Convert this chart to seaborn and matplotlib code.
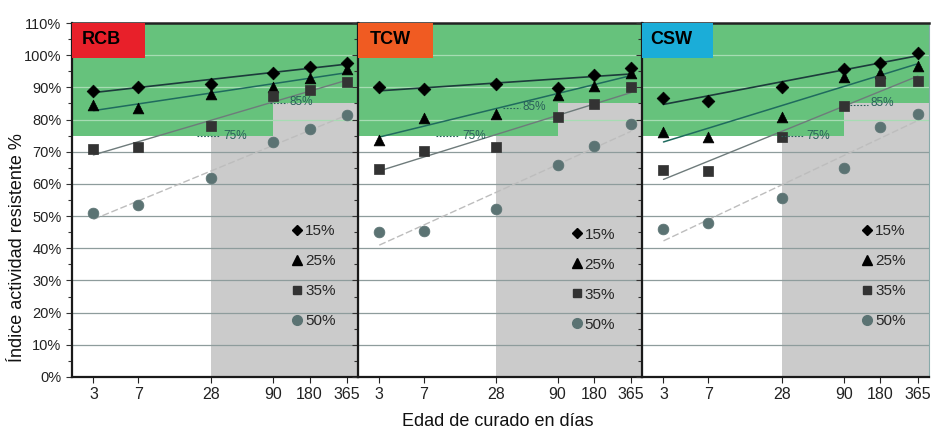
import numpy as np
import pandas as pd
import matplotlib
matplotlib.use("Agg")
import matplotlib.pyplot as plt
from matplotlib.lines import Line2D
from matplotlib.patches import Rectangle
from matplotlib.ticker import PercentFormatter, FixedLocator, MultipleLocator
import seaborn as sns

# ---------------- data ----------------
days = [3, 7, 28, 90, 180, 365]
day_labels = ["3", "7", "28", "90", "180", "365"]
panels = ["RCB", "TCW", "CSW"]
series = ["15%", "25%", "35%", "50%"]

rcb_15 = [88.9, 90.2, 91.0, 94.6, 96.4, 97.5]
rcb_25 = [84.4, 83.5, 87.8, 90.2, 92.8, 95.7]
rcb_35 = [70.7, 71.5, 77.9, 87.4, 89.2, 91.7]
rcb_50 = [50.9, 53.4, 61.7, 73.1, 77.1, 81.5]

tcw_15 = [90.0, 89.6, 91.1, 89.9, 93.8, 95.9]
tcw_25 = [73.6, 80.4, 81.7, 87.7, 90.5, 94.6]
tcw_35 = [64.6, 70.2, 71.6, 80.9, 84.9, 90.0]
tcw_50 = [45.2, 45.5, 52.1, 65.8, 71.8, 78.7]

csw_15 = [86.8, 85.8, 90.2, 95.6, 97.5, 100.8]
csw_25 = [76.2, 74.5, 80.9, 93.3, 94.6, 96.6]
csw_35 = [64.3, 64.0, 74.7, 84.2, 92.0, 92.0]
csw_50 = [46.0, 47.9, 55.5, 64.8, 77.8, 81.6]

panel_values = {
    "RCB": [rcb_15, rcb_25, rcb_35, rcb_50],
    "TCW": [tcw_15, tcw_25, tcw_35, tcw_50],
    "CSW": [csw_15, csw_25, csw_35, csw_50],
}
threshold_labels = ["75%", "85%"]
y_label = "Índice actividad resistente %"
x_label = "Edad de curado en días"

# ---------------- style ----------------
sns.set_theme(style="white")
plt.rcParams["font.family"] = ["Liberation Sans", "DejaVu Sans"]

box_colors = {"RCB": "#e8202a", "TCW": "#f05b22", "CSW": "#1badd8"}
markers = ["D", "^", "s", "o"]
marker_colors = ["#000000", "#000000", "#333333", "#5b7373"]
marker_sizes = [42, 60, 48, 60]
line_styles = [
    dict(color="#1c3b3b", lw=1.2, ls="-"),
    dict(color="#1f6b5e", lw=1.1, ls="-"),
    dict(color="#6e7b7b", lw=1.0, ls="-"),
    dict(color="#bdbdbd", lw=1.0, ls=(0, (5, 2))),
]
green = "#66c27c"
gray = "#cbcbcb"

fig = plt.figure(figsize=(9.31, 4.32), dpi=100)
bottom = 1 - 377 / 432
height = (377 - 23) / 432
lefts = [72, 358, 642]
widths = [286, 284, 287]

box_w = [0.255, 0.264, 0.247]
title_x = [0.035, 0.042, 0.028]
leg_pos = [(0.775, 0.432), (0.757, 0.422), (0.772, 0.432)]
t75_x = [0.528, 0.366, 0.574]
t85_x = [0.762, 0.58, 0.796]
t85_y = [85.5, 84.0, 85.0]

xmin, xmax = 2, 450

for i, name in enumerate(panels):
    ax = fig.add_axes([lefts[i] / 931, bottom, widths[i] / 931, height])
    ax.set_xscale("log")
    ax.set_xlim(xmin, xmax)
    ax.set_ylim(0, 110)

    # background zones
    ax.fill_between([xmin, 90], 75, 110, color=green, lw=0, zorder=0.2)
    ax.fill_between([90, xmax], 85, 110, color=green, lw=0, zorder=0.2)
    ax.fill_between([28, 90], 0, 75, color=gray, lw=0, zorder=0.2)
    ax.fill_between([90, xmax], 0, 85, color=gray, lw=0, zorder=0.2)

    # grid lines
    for g in range(10, 110, 10):
        c = "#8e9c9c" if g <= 70 else "#a6dcb3"
        ax.axhline(g, color=c, lw=0.9, zorder=0.5)

    vals = panel_values[name]
    for k, s in enumerate(series):
        df = pd.DataFrame({"day": days, "val": vals[k]})
        sns.regplot(data=df, x="day", y="val", logx=True, ci=None, scatter=False,
                    ax=ax, line_kws=dict(**line_styles[k], zorder=2))
        sns.scatterplot(data=df, x="day", y="val", marker=markers[k],
                        color=marker_colors[k], s=marker_sizes[k],
                        edgecolor=marker_colors[k], linewidth=0.5, ax=ax, zorder=3)

    # threshold annotations
    tcol = "#2a5f5a"
    ax.text(t75_x[i], 75, threshold_labels[0], transform=ax.get_yaxis_transform(),
            fontsize=8.5, color=tcol, va="center", ha="left", zorder=4)
    ax.plot([t75_x[i] - 0.09, t75_x[i] - 0.01], [75, 75], transform=ax.get_yaxis_transform(),
            color=tcol, lw=0.8, ls=(0, (1.5, 1.5)), zorder=4)
    ax.text(t85_x[i], t85_y[i], threshold_labels[1], transform=ax.get_yaxis_transform(),
            fontsize=8.5, color=tcol, va="center", ha="left", zorder=4)
    ax.plot([t85_x[i] - 0.07, t85_x[i] - 0.01], [t85_y[i] - 0.5] * 2, transform=ax.get_yaxis_transform(),
            color=tcol, lw=0.8, ls=(0, (1.5, 1.5)), zorder=4)

    # title box
    ax.add_patch(Rectangle((0, 1 - 0.099), box_w[i], 0.099, transform=ax.transAxes,
                           facecolor=box_colors[name], edgecolor="none", zorder=5,
                           clip_on=False))
    ax.text(title_x[i], 0.952, name, transform=ax.transAxes, fontsize=13,
            fontweight="bold", color="black", va="center", ha="left", zorder=6)

    # legend
    handles = [Line2D([], [], ls="none", marker=markers[k], color=marker_colors[k],
                      markersize=[5.5, 7, 6, 7][k]) for k in range(4)]
    ax.legend(handles, series, loc="upper left", bbox_to_anchor=leg_pos[i],
              frameon=False, fontsize=11, handlelength=0.5, handletextpad=0.25,
              labelspacing=1.05, borderpad=0, borderaxespad=0)

    # axes styling
    ax.set_xlabel("")
    ax.set_ylabel("")
    ax.xaxis.set_major_locator(FixedLocator(days))
    ax.xaxis.set_minor_locator(FixedLocator([]))
    ax.set_xticklabels(day_labels)
    ax.yaxis.set_major_locator(MultipleLocator(10))
    ax.yaxis.set_minor_locator(MultipleLocator(5))
    ax.yaxis.set_major_formatter(PercentFormatter(100, decimals=0))
    ax.tick_params(axis="x", which="major", direction="out", length=4, width=0.8,
                   labelsize=11.5, colors="#222222", pad=3, bottom=True)
    ax.tick_params(axis="y", which="both", direction="out", left=True, width=0.8,
                   colors="#333333")
    ax.tick_params(axis="y", which="major", length=4, labelsize=10.5, labelcolor="#222222")
    ax.tick_params(axis="y", which="minor", length=3)
    if i > 0:
        ax.tick_params(axis="y", which="both", labelleft=False)
    for sp in ["left", "bottom"]:
        ax.spines[sp].set_color("#1a1a1a")
        ax.spines[sp].set_linewidth(1.6)
    ax.spines["top"].set_color("#222222")
    ax.spines["top"].set_linewidth(1.8)
    ax.spines["right"].set_color("#8aa")
    ax.spines["right"].set_linewidth(0.8)
    ax.set_zorder(1 + i)
    ax.patch.set_alpha(0)

fig.text(18 / 931, 1 - 248 / 432, y_label, rotation=90, fontsize=13,
         va="center", ha="center", color="#111111")
fig.text(498 / 931, 1 - 421 / 432, x_label, fontsize=13, va="center",
         ha="center", color="#111111")

fig.savefig("out.png", dpi=100)
